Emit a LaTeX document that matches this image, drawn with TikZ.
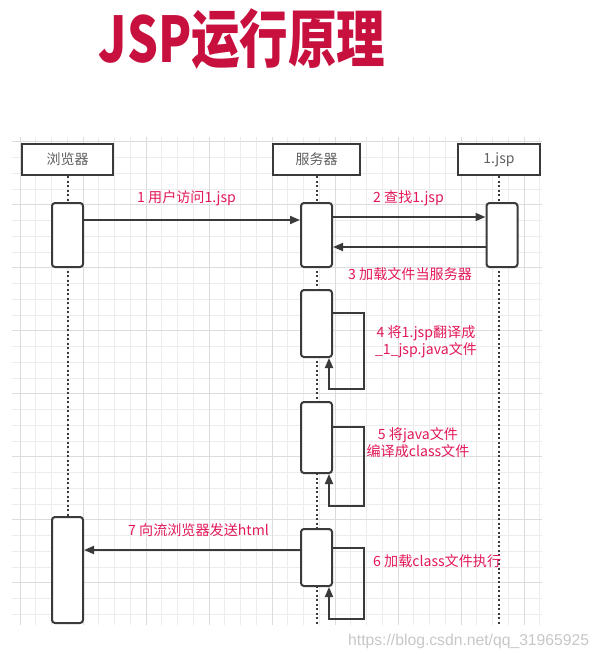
\documentclass[tikz,border=0pt]{standalone}
\usepackage{fontspec}
\setmainfont{Noto Sans CJK SC}
\newfontfamily\wmfont{Liberation Sans}
\usetikzlibrary{arrows.meta}
\definecolor{rojo}{RGB}{226,24,88}
\definecolor{titulo}{RGB}{200,16,62}
\definecolor{borde}{RGB}{58,58,58}
\definecolor{gristxt}{RGB}{96,96,96}
\definecolor{rejilla}{RGB}{236,236,236}
\definecolor{rejillab}{RGB}{220,220,220}

\begin{document}
\begin{tikzpicture}[x=1pt, y=-1pt, >={Triangle[length=10pt,width=8pt]},
    minorgrid/.style={rejilla, line width=0.8pt},
    majorgrid/.style={rejillab, line width=1pt},
    cabecera/.style={draw=borde, line width=2pt, fill=white, minimum height=31pt,
        inner sep=0pt, text=gristxt, font=\fontsize{14}{16}\selectfont},
    activo/.style={draw=borde, line width=2pt, fill=white, rounded corners=3pt,
        minimum width=31pt, inner sep=0pt},
    vida/.style={borde, line width=2pt, dash pattern=on 2pt off 2.5pt},
    msg/.style={->, borde, line width=1.8pt},
    etiqueta/.style={text=rojo, inner sep=0pt, font=\fontsize{14.1}{17}\selectfont}]
    \useasboundingbox (0,0) rectangle (600,659);

    % Rejilla
    \foreach \i in {0,...,33}
        \draw[minorgrid] (20+15.75*\i,137) -- (20+15.75*\i,625);
    \foreach \j in {0,...,30}
        \draw[minorgrid] (12,141.7+15.75*\j) -- (542,141.7+15.75*\j);
    \foreach \i in {0,4,...,32}
        \draw[majorgrid] (20+15.75*\i,137) -- (20+15.75*\i,625);
    \foreach \j in {0,4,...,28}
        \draw[majorgrid] (12,141.7+15.75*\j) -- (542,141.7+15.75*\j);

    % Titulo
    \node[text=titulo, inner sep=0pt] (titulo) at (242,39)
        {\scalebox{0.77}[1]{\fontsize{63}{63}\selectfont\bfseries JSP运行原理}};

    % Cabeceras y lineas de vida
    \node[cabecera, minimum width=91pt] (hb) at (67.5,159.5) {浏览器};
    \node[cabecera, minimum width=87pt] (hs) at (316.5,159.5) {服务器};
    \node[cabecera, minimum width=82pt] (hj) at (499,159.5) {1.jsp};
    \coordinate (fondo) at (0,624);
    \draw[vida] (hb.south) -- (hb.south |- fondo);
    \draw[vida] (hs.south) -- (hs.south |- fondo);
    \draw[vida] (hj.south) -- (hj.south |- fondo);

    % Activaciones
    \node[activo, minimum height=64pt] (b1) at (67.5,235) {};
    \node[activo, minimum height=64pt] (s1) at (316.5,235) {};
    \node[activo, minimum height=64pt] (j1) at (502,235) {};
    \node[activo, minimum height=67pt] (s2) at (316.5,323.5) {};
    \node[activo, minimum height=71pt] (s3) at (316.5,437.5) {};
    \node[activo, minimum height=106pt] (b2) at (67.5,570) {};
    \node[activo, minimum height=57pt] (s4) at (316.5,557.5) {};

    % Mensajes
    \draw[msg] ([yshift=15pt]b1.east) -- ([yshift=15pt]s1.west);
    \draw[msg] ([yshift=18pt]s1.east) -- ([yshift=18pt]j1.west);
    \draw[msg] ([yshift=-12pt]j1.west) -- ([yshift=-12pt]s1.east);
    \draw[msg] ([yshift=10.5pt]s2.east) -- ++(31,0)
        |- ([xshift=12.5pt,yshift=-31pt]s2.south) -- ([xshift=12.5pt]s2.south);
    \draw[msg] ([yshift=10.5pt]s3.east) -- ++(31,0)
        |- ([xshift=12.5pt,yshift=-32pt]s3.south) -- ([xshift=12.5pt]s3.south);
    \draw[msg] ([yshift=9.5pt]s4.east) -- ++(31,0)
        |- ([xshift=12.5pt,yshift=-32pt]s4.south) -- ([xshift=12.5pt]s4.south);
    \draw[msg] ([yshift=7.5pt]s4.west) -- ([yshift=20pt]b2.east);

    % Etiquetas
    \node[etiqueta, anchor=west] (l1) at (137,198) {1 用户访问1.jsp};
    \node[etiqueta, anchor=west] (l2) at (373,198) {2 查找1.jsp};
    \node[etiqueta, anchor=west] (l3) at (348,274) {3 加载文件当服务器};
    \node[etiqueta, align=center] (l4) at (426,341.5) {4 将1.jsp翻译成\\\_1\_jsp.java文件};
    \node[etiqueta, align=center] (l5) at (418,442.5) {5 将java文件\\编译成class文件};
    \node[etiqueta, anchor=west] (l6) at (373,561) {6 加载class文件执行};
    \node[etiqueta, anchor=west] (l7) at (128,530) {7 向流浏览器发送html};

    % Marca
    \node[text=black!22, anchor=west, inner sep=0pt, font=\wmfont\fontsize{15.7}{16}\selectfont]
        (marca) at (348,641) {https://blog.csdn.net/qq\_31965925};
\end{tikzpicture}
\end{document}
